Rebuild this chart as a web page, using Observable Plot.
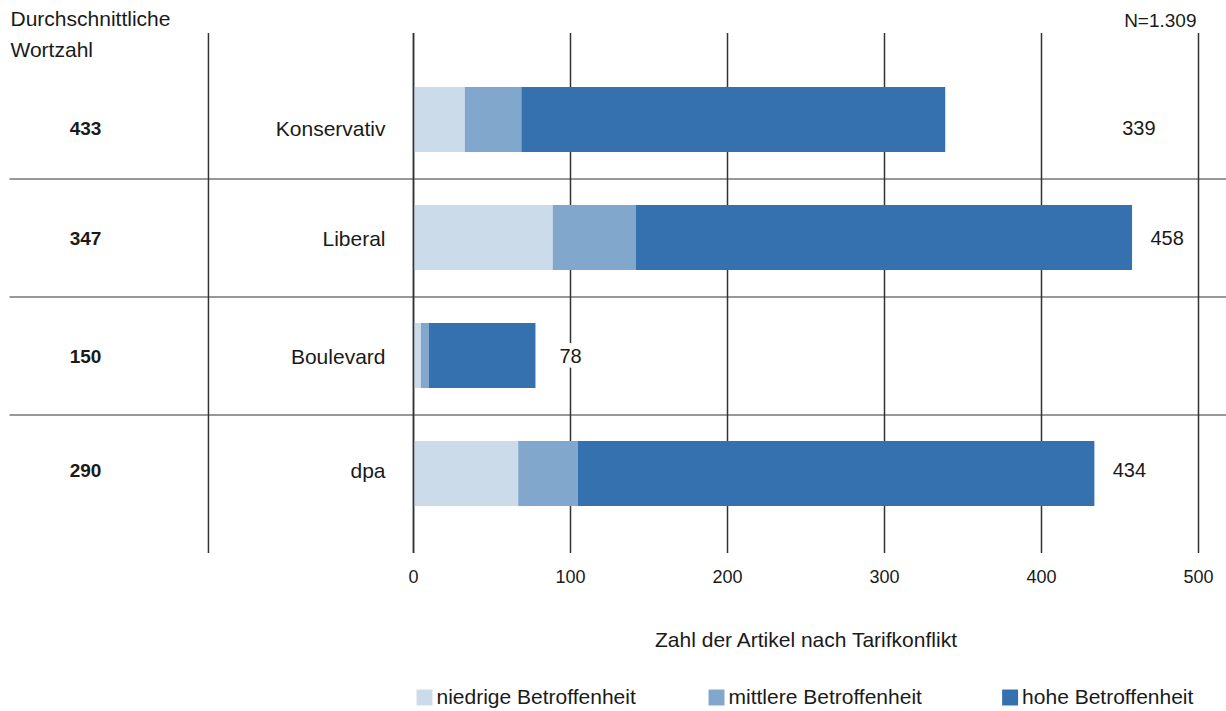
<!DOCTYPE html>
<html>
<head>
<meta charset="utf-8">
<script src="https://cdn.jsdelivr.net/npm/d3@7"></script>
<script src="https://cdn.jsdelivr.net/npm/@observablehq/plot@0.6"></script>
<style>
  body { margin: 0; background: #fff; }
  svg { display: block; }
</style>
</head>
<body>
<div id="chart"></div>
<script>
// ---- data ----
const categories = ["Konservativ", "Liberal", "Boulevard", "dpa"];
const wortzahl = [433, 347, 150, 290];
const niedrig = [33, 89, 5, 67];
const mittel = [36, 53, 5, 38];
const hoch = [270, 316, 68, 329];
const totals = [339, 458, 78, 434];
const levels = ["niedrige Betroffenheit", "mittlere Betroffenheit", "hohe Betroffenheit"];
const levelColors = ["#ccdbea", "#81a7cc", "#3471ae"];
const xTicks = [0, 100, 200, 300, 400, 500];
const leftHeader = "Durchschnittliche\nWortzahl";
const nLabel = "N=1.309";
const xLabel = "Zahl der Artikel nach Tarifkonflikt";

// ---- derived tables ----
const series = [niedrig, mittel, hoch];
const rows = categories.flatMap((c, i) => levels.map((l, j) => ({cat: c, level: l, value: series[j][i]})));
const rowInfo = categories.map((c, i) => ({cat: c, wz: wortzahl[i], total: totals[i]}));
const firstRow = rowInfo.slice(0, 1);
const midRows = rowInfo.slice(1, 3);
const lastRow = rowInfo.slice(3);

const font = "'Liberation Sans', Arial, sans-serif";
const ink = "#1a1a1a";
const lineCol = "#333333";

// legend swatch positions in x-scale units (placement only)
const legendPos = [7, 193, 380];
const legendRows = levels.map((l, i) => ({level: l, x: legendPos[i]}));

// total label x: just past the bar end (first row sits further right in the reference)
const labelX = d => d.cat === "Konservativ" ? 462 : d.total + 22;

const textCommon = {fontFamily: font, fill: ink};

function rowTexts(data, dy) {
  return [
    Plot.text(data, {...textCommon, y: "cat", text: "cat", frameAnchor: "left", dx: -28, dy, textAnchor: "end", fontSize: 21}),
    Plot.text(data, {...textCommon, y: "cat", text: d => String(d.wz), frameAnchor: "left", dx: -328, dy, textAnchor: "middle", fontWeight: "bold", fontSize: 19}),
    Plot.text(data, {...textCommon, y: "cat", x: labelX, text: d => String(d.total), dy, textAnchor: "middle", fontSize: 20, stroke: "white", strokeWidth: 12, paintOrder: "stroke"})
  ];
}

const chart = Plot.plot({
  width: 1226,
  height: 711,
  marginLeft: 413,
  marginRight: 28,
  marginTop: 33,
  marginBottom: 158,
  style: {fontFamily: font, fontSize: "18px", color: ink, background: "#fff"},
  x: {domain: [0, 500], ticks: xTicks, tickSize: 0, tickPadding: 17, label: null, tickFormat: d => String(d)},
  y: {domain: categories, paddingInner: 0.45, paddingOuter: 0.428, align: 0.53, axis: null},
  color: {domain: levels, range: levelColors},
  marks: [
    // vertical grid lines
    Plot.ruleX(xTicks, {stroke: lineCol, strokeWidth: 1.5}),
    // left column divider
    Plot.ruleX([-130.6], {stroke: lineCol, strokeWidth: 1.5}),
    // row separators
    Plot.ruleY(categories.slice(1), {y: d => d, x1: -257, x2: 518, dy: -59, stroke: lineCol, strokeWidth: 1.2}),
    // stacked bars
    Plot.barX(rows, {x: "value", y: "cat", fill: "level"}),
    // zero line over bar edge, and the 400 line showing through the dpa bar
    Plot.ruleX([0], {stroke: lineCol, strokeWidth: 1.5}),
    Plot.ruleX([{x: 400, cat: "dpa"}], {x: "x", y: "cat", stroke: "#111", strokeWidth: 1.5}),
    ...rowTexts(firstRow, 9),
    ...rowTexts(midRows, 1),
    ...rowTexts(lastRow, -3),
    // header texts
    Plot.text([leftHeader], {...textCommon, text: d => d, frameAnchor: "top-left", dx: -403, dy: -29, lineAnchor: "top", lineHeight: 1.45, textAnchor: "start", fontSize: 21}),
    Plot.text([nLabel], {...textCommon, text: d => d, frameAnchor: "top-right", dx: -2, dy: -13, lineAnchor: "middle", textAnchor: "end", fontSize: 19}),
    // x-axis title
    Plot.text([xLabel], {...textCommon, text: d => d, frameAnchor: "bottom", dy: 87, lineAnchor: "middle", fontSize: 21}),
    // legend
    Plot.dot(legendRows, {x: "x", fill: "level", symbol: "square", r: 9, frameAnchor: "bottom", dy: 144}),
    Plot.text(legendRows, {...textCommon, x: "x", text: "level", frameAnchor: "bottom", dx: 12, dy: 144, textAnchor: "start", lineAnchor: "middle", fontSize: 21})
  ]
});
document.getElementById("chart").appendChild(chart);
</script>
</body>
</html>
